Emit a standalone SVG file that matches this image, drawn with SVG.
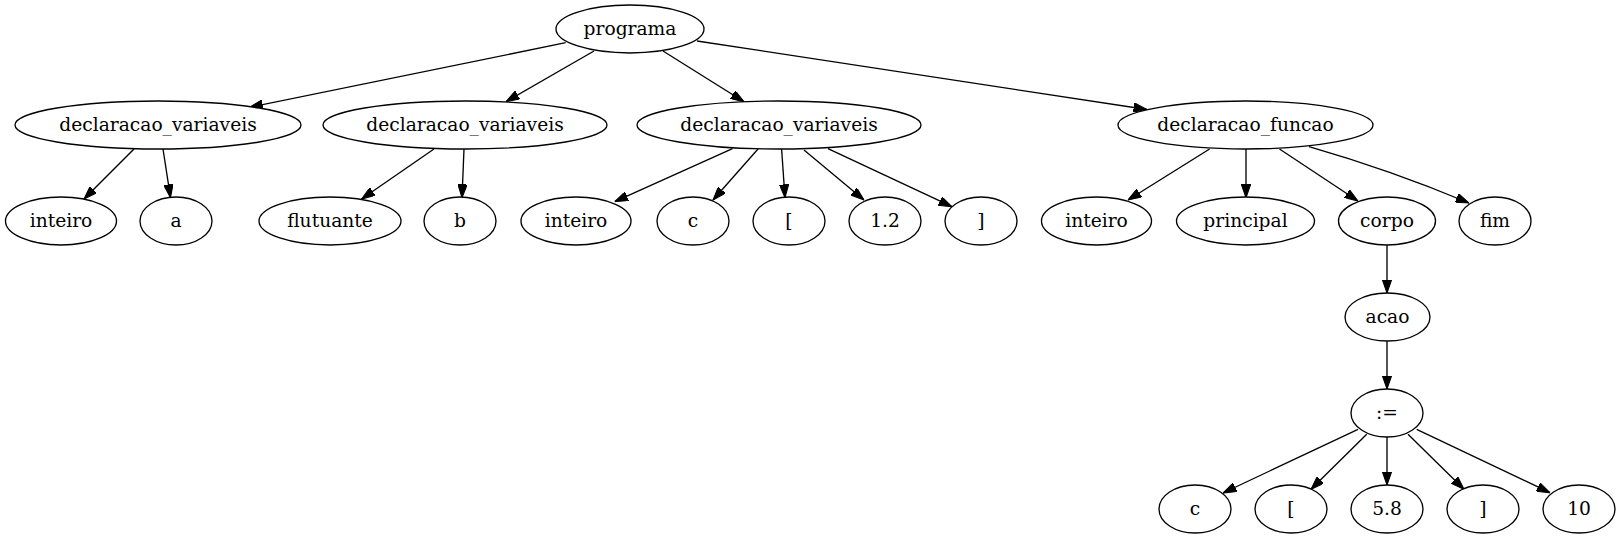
<svg xmlns="http://www.w3.org/2000/svg" width="1621" height="539" viewBox="0 0 1621 539">
<style>
.n ellipse{fill:#fff;stroke:#000;stroke-width:1.33}
.n text{font-family:"DejaVu Serif","Liberation Serif",serif;font-size:18.67px;text-anchor:middle;fill:#000}
.e path{fill:none;stroke:#000;stroke-width:1.33;marker-end:url(#arr)}
</style>
<defs>
<marker id="arr" viewBox="0 0 10 7" markerWidth="13.33" markerHeight="9.33" refX="10" refY="3.5" orient="auto" markerUnits="userSpaceOnUse">
<path d="M0,0 L10,3.5 L0,7 z" fill="#000" stroke="#000" stroke-width="0.8"/>
</marker>
</defs>
<rect width="1621" height="539" fill="#fff"/>
<g id="edges" class="e">
<path d="M565.7,42.7 L249.5,107.3"/>
<path d="M594,51 L506,101.7"/>
<path d="M663,51 L744,101.7"/>
<path d="M697,41 L1147,109.5"/>
<path d="M134,149 L84,199"/>
<path d="M163,149 L170.5,197.7"/>
<path d="M434,149 L361.6,199"/>
<path d="M464,149 L462,197.7"/>
<path d="M732.5,148.7 L614.7,201.7"/>
<path d="M758,149 L713,200"/>
<path d="M781.6,149 L785,197.7"/>
<path d="M804,150 L864,200"/>
<path d="M828,148.7 L952,206.7"/>
<path d="M1209.6,149 L1128,200"/>
<path d="M1246,149 L1246,197.7"/>
<path d="M1279.5,149 L1358,201"/>
<path d="M1309,146.7 Q1390,170 1469,203"/>
<path d="M1387,245 L1387,293"/>
<path d="M1387,341 L1387,389"/>
<path d="M1358,429.3 L1223,493"/>
<path d="M1366.7,434.3 L1311,489.3"/>
<path d="M1387,437 L1387,485"/>
<path d="M1408,434.3 L1464,489.3"/>
<path d="M1416.7,429.3 L1550,492.7"/>
</g>
<g id="programa" class="n"><ellipse cx="630" cy="29" rx="74" ry="24"/><text x="630" y="35">programa</text></g>
<g id="dv1" class="n"><ellipse cx="158" cy="125" rx="143" ry="24"/><text x="158" y="131">declaracao_variaveis</text></g>
<g id="dv2" class="n"><ellipse cx="465" cy="125" rx="142" ry="24"/><text x="465" y="131">declaracao_variaveis</text></g>
<g id="dv3" class="n"><ellipse cx="779" cy="125" rx="142" ry="24"/><text x="779" y="131">declaracao_variaveis</text></g>
<g id="df" class="n"><ellipse cx="1245.5" cy="125" rx="127.5" ry="24"/><text x="1245.5" y="131">declaracao_funcao</text></g>
<g id="inteiro1" class="n"><ellipse cx="61" cy="221" rx="55.5" ry="24"/><text x="61" y="227">inteiro</text></g>
<g id="a" class="n"><ellipse cx="176" cy="221" rx="36" ry="24"/><text x="176" y="227">a</text></g>
<g id="flutuante" class="n"><ellipse cx="330" cy="221" rx="71" ry="24"/><text x="330" y="227">flutuante</text></g>
<g id="b" class="n"><ellipse cx="460" cy="221" rx="36" ry="24"/><text x="460" y="227">b</text></g>
<g id="inteiro2" class="n"><ellipse cx="576" cy="221" rx="55" ry="24"/><text x="576" y="227">inteiro</text></g>
<g id="c1" class="n"><ellipse cx="693" cy="221" rx="36" ry="24"/><text x="693" y="227">c</text></g>
<g id="lb1" class="n"><ellipse cx="789" cy="221" rx="36" ry="24"/><text x="789" y="227">[</text></g>
<g id="n12" class="n"><ellipse cx="885" cy="221" rx="36" ry="24"/><text x="885" y="227">1.2</text></g>
<g id="rb1" class="n"><ellipse cx="981" cy="221" rx="36" ry="24"/><text x="981" y="227">]</text></g>
<g id="inteiro3" class="n"><ellipse cx="1096.5" cy="221" rx="55" ry="24"/><text x="1096.5" y="227">inteiro</text></g>
<g id="principal" class="n"><ellipse cx="1245.5" cy="221" rx="69" ry="24"/><text x="1245.5" y="227">principal</text></g>
<g id="corpo" class="n"><ellipse cx="1387" cy="221" rx="48.5" ry="24"/><text x="1387" y="227">corpo</text></g>
<g id="fim" class="n"><ellipse cx="1495" cy="221" rx="36" ry="24"/><text x="1495" y="227">fim</text></g>
<g id="acao" class="n"><ellipse cx="1387.5" cy="317" rx="42.5" ry="24"/><text x="1387.5" y="323">acao</text></g>
<g id="assign" class="n"><ellipse cx="1387" cy="413" rx="36" ry="24"/><text x="1387" y="419">:=</text></g>
<g id="c2" class="n"><ellipse cx="1195" cy="509" rx="36" ry="24"/><text x="1195" y="515">c</text></g>
<g id="lb2" class="n"><ellipse cx="1291" cy="509" rx="36" ry="24"/><text x="1291" y="515">[</text></g>
<g id="n58" class="n"><ellipse cx="1387" cy="509" rx="36" ry="24"/><text x="1387" y="515">5.8</text></g>
<g id="rb2" class="n"><ellipse cx="1483" cy="509" rx="36" ry="24"/><text x="1483" y="515">]</text></g>
<g id="n10" class="n"><ellipse cx="1579" cy="509" rx="36" ry="24"/><text x="1579" y="515">10</text></g>
</svg>
